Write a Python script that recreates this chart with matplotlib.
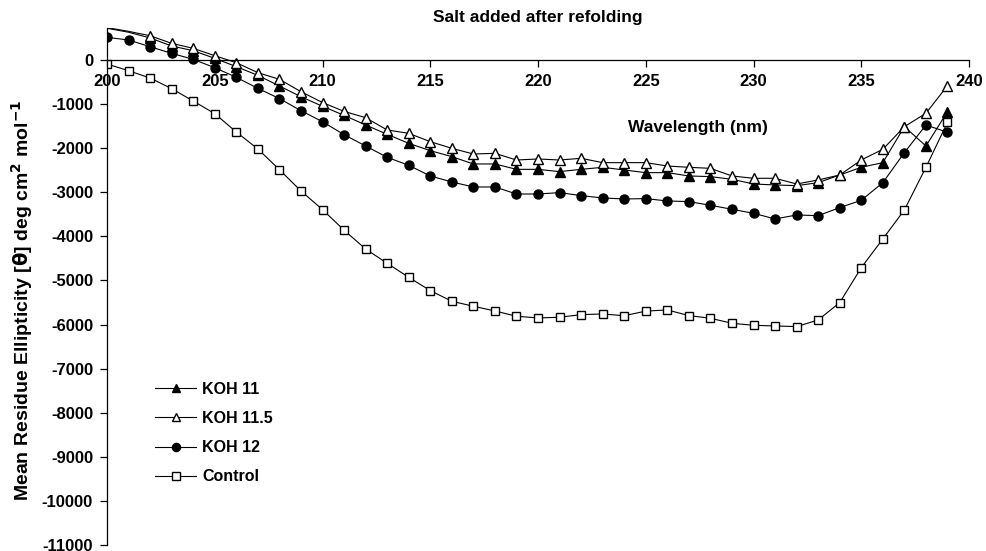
import matplotlib

matplotlib.use("Agg")
import matplotlib.pyplot as plt

plt.rcParams["font.family"] = ["Liberation Sans", "DejaVu Sans"]
plt.rcParams["font.weight"] = "bold"

# wavelength (nm), one reading per nm
wavelength = list(range(200, 240))

koh_11 = [720, 630, 500, 317, 212, 38, -151, -348, -590, -832,
          -1050, -1255, -1474, -1685, -1890, -2056, -2192, -2358, -2358, -2480,
          -2480, -2532, -2480, -2434, -2495, -2555, -2555, -2630, -2645, -2706,
          -2812, -2834, -2850, -2782, -2608, -2434, -2328, -1512, -1950, -1172]

koh_11_5 = [735, 650, 550, 378, 265, 98, -61, -287, -438, -718,
            -965, -1165, -1308, -1587, -1663, -1852, -2003, -2132, -2117, -2268,
            -2245, -2268, -2230, -2328, -2328, -2328, -2404, -2434, -2457, -2630,
            -2683, -2683, -2812, -2721, -2608, -2268, -2026, -1512, -1209, -582]

koh_12 = [514, 454, 302, 151, 15, -174, -393, -643, -875, -1149,
          -1400, -1693, -1950, -2207, -2388, -2630, -2766, -2880, -2880, -3039,
          -3039, -3008, -3076, -3129, -3152, -3144, -3197, -3212, -3295, -3386,
          -3477, -3605, -3515, -3530, -3348, -3182, -2782, -2101, -1474, -1640]

control = [-90, -243, -408, -650, -930, -1217, -1633, -2018, -2487, -2970,
           -3393, -3860, -4286, -4611, -4928, -5230, -5472, -5585, -5692, -5812,
           -5850, -5835, -5775, -5760, -5800, -5695, -5669, -5797, -5858, -5971,
           -6017, -6032, -6047, -5896, -5503, -4709, -4059, -3401, -2434, -1413]

x_ticks = list(range(200, 241, 5))
y_ticks = list(range(-11000, 1, 1000))

fig = plt.figure(figsize=(9.87, 5.51), dpi=100)
ax = fig.add_axes([0.1084, 0.0109, 0.8734, 0.9383])

line_kw = dict(color="black", linewidth=0.8, markeredgecolor="black",
               markeredgewidth=1.0)
first_marked = list(range(2, len(wavelength)))
ax.plot(wavelength, koh_11, marker="^", markersize=7, markerfacecolor="black",
        markevery=first_marked, label="KOH 11", **line_kw)
ax.plot(wavelength, koh_11_5, marker="^", markersize=7, markerfacecolor="white",
        markevery=first_marked, label="KOH 11.5", **line_kw)
ax.plot(wavelength, koh_12, marker="o", markersize=6.5, markerfacecolor="black",
        label="KOH 12", **line_kw)
ax.plot(wavelength, control, marker="s", markersize=6, markerfacecolor="white",
        label="Control", **line_kw)

ax.set_xlim(200, 240)
ax.set_ylim(-11000, 726)
ax.set_xticks(x_ticks)
ax.set_yticks(y_ticks)
ax.set_yticklabels([str(v) for v in y_ticks])

ax.spines["top"].set_visible(False)
ax.spines["right"].set_visible(False)
ax.spines["bottom"].set_position(("data", 0))
ax.spines["left"].set_linewidth(0.9)
ax.spines["bottom"].set_linewidth(0.9)
ax.tick_params(axis="x", direction="out", length=5, width=0.9, pad=5, labelsize=12)
ax.tick_params(axis="y", direction="out", length=5, width=0.9, pad=5, labelsize=12)
for lab in ax.get_xticklabels() + ax.get_yticklabels():
    lab.set_fontweight("bold")

ax.set_title("Salt added after refolding", fontsize=12.5, fontweight="bold", pad=4)
ax.text(227.4, -1540, "Wavelength (nm)", fontsize=12.5, fontweight="bold",
        ha="center", va="center")
fig.text(0.022, 0.455, r"Mean Residue Ellipticity [$\mathbf{\theta}$] deg cm$^{\mathbf{2}}$ mol$^{\mathbf{-1}}$",
         rotation=90, fontsize=14, fontweight="bold", ha="center", va="center")

leg = ax.legend(loc="upper left", bbox_to_anchor=(155 / 987, 1 - 382 / 551),
                bbox_transform=fig.transFigure, frameon=False, borderpad=0,
                borderaxespad=0, fontsize=11.5, handlelength=2.57,
                handletextpad=0.37, labelspacing=0.88, markerscale=0.9)
for t in leg.get_texts():
    t.set_fontweight("bold")

fig.savefig("out.png", dpi=100)
